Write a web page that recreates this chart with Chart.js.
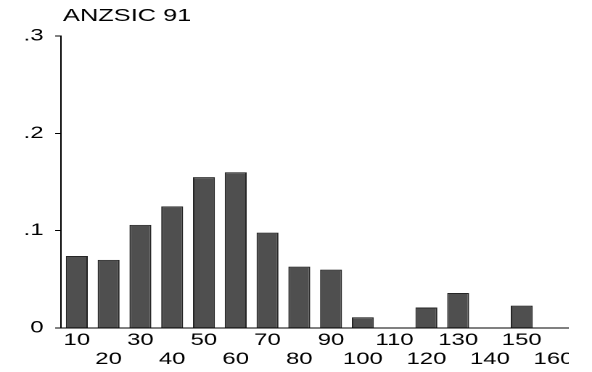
<!DOCTYPE html>
<html>
<head>
<meta charset="utf-8">
<script src="https://cdn.jsdelivr.net/npm/chart.js@4"></script>
<style>
  html, body { margin: 0; padding: 0; background: #fff; }
  /* the reference is stretched sideways, so the canvas is drawn narrow and widened */
  #clip { width: 569px; height: 372px; overflow: hidden; }
  #stretch { width: 408px; height: 372px; transform: scaleX(1.451); transform-origin: 0 0; }
</style>
</head>
<body>
<div id="clip"><div id="stretch"><canvas id="chart" width="408" height="372"></canvas></div></div>
<script>
// Dados
const categories = ["10", "20", "30", "40", "50", "60", "70", "80", "90", "100", "110", "120", "130", "140", "150", "160"];
const shares = [0.074, 0.070, 0.106, 0.125, 0.155, 0.160, 0.098, 0.063, 0.060, 0.011, 0, 0.021, 0.036, 0, 0.023, 0];
const yTickLabels = ["0", ".1", ".2", ".3"];
const titleText = "ANZSIC 91";

const FONT = "Liberation Sans, Arial, sans-serif";

// Título desenhado alinhado ao eixo y
const titlePlugin = {
  id: "corner-title",
  afterDraw(chart) {
    const { ctx, chartArea } = chart;
    ctx.save();
    ctx.font = `17.5px ${FONT}`;
    ctx.fillStyle = "#000";
    ctx.textAlign = "left";
    ctx.textBaseline = "alphabetic";
    ctx.fillText(titleText, chartArea.left + 1.4, 21);
    ctx.restore();
  },
};

new Chart(document.getElementById("chart"), {
  type: "bar",
  data: {
    labels: categories,
    datasets: [
      {
        data: shares,
        backgroundColor: "#4f4f4f",
        borderColor: "#262626",
        borderWidth: 1,
        categoryPercentage: 1,
        barPercentage: 0.69,
      },
    ],
  },
  options: {
    responsive: false,
    animation: false,
    devicePixelRatio: 2,
    layout: { padding: { top: 36, right: 15.6, bottom: 0, left: 0 } },
    plugins: {
      legend: { display: false },
      tooltip: { enabled: false },
    },
    scales: {
      x: {
        grid: { display: false, drawTicks: false },
        border: { display: true, color: "#000", width: 1 },
        afterFit: (scale) => { scale.height = 44; },
        ticks: {
          autoSkip: false,
          maxRotation: 0,
          padding: 3,
          color: "#000",
          font: { family: FONT, size: 16.5, lineHeight: 1.15 },
          // rótulos alternados em duas linhas
          callback: (value, i) => (i % 2 === 0 ? [categories[i], ""] : ["", categories[i]]),
        },
      },
      y: {
        min: 0,
        max: 0.3,
        grid: { drawOnChartArea: false, drawTicks: true, tickLength: 4, color: "#000" },
        border: { display: true, color: "#000", width: 1 },
        afterFit: (scale) => { scale.width = 42; },
        ticks: {
          stepSize: 0.1,
          padding: 8,
          color: "#000",
          font: { family: FONT, size: 16.5 },
          callback: (value, i) => yTickLabels[i],
        },
      },
    },
  },
  plugins: [titlePlugin],
});
</script>
</body>
</html>
